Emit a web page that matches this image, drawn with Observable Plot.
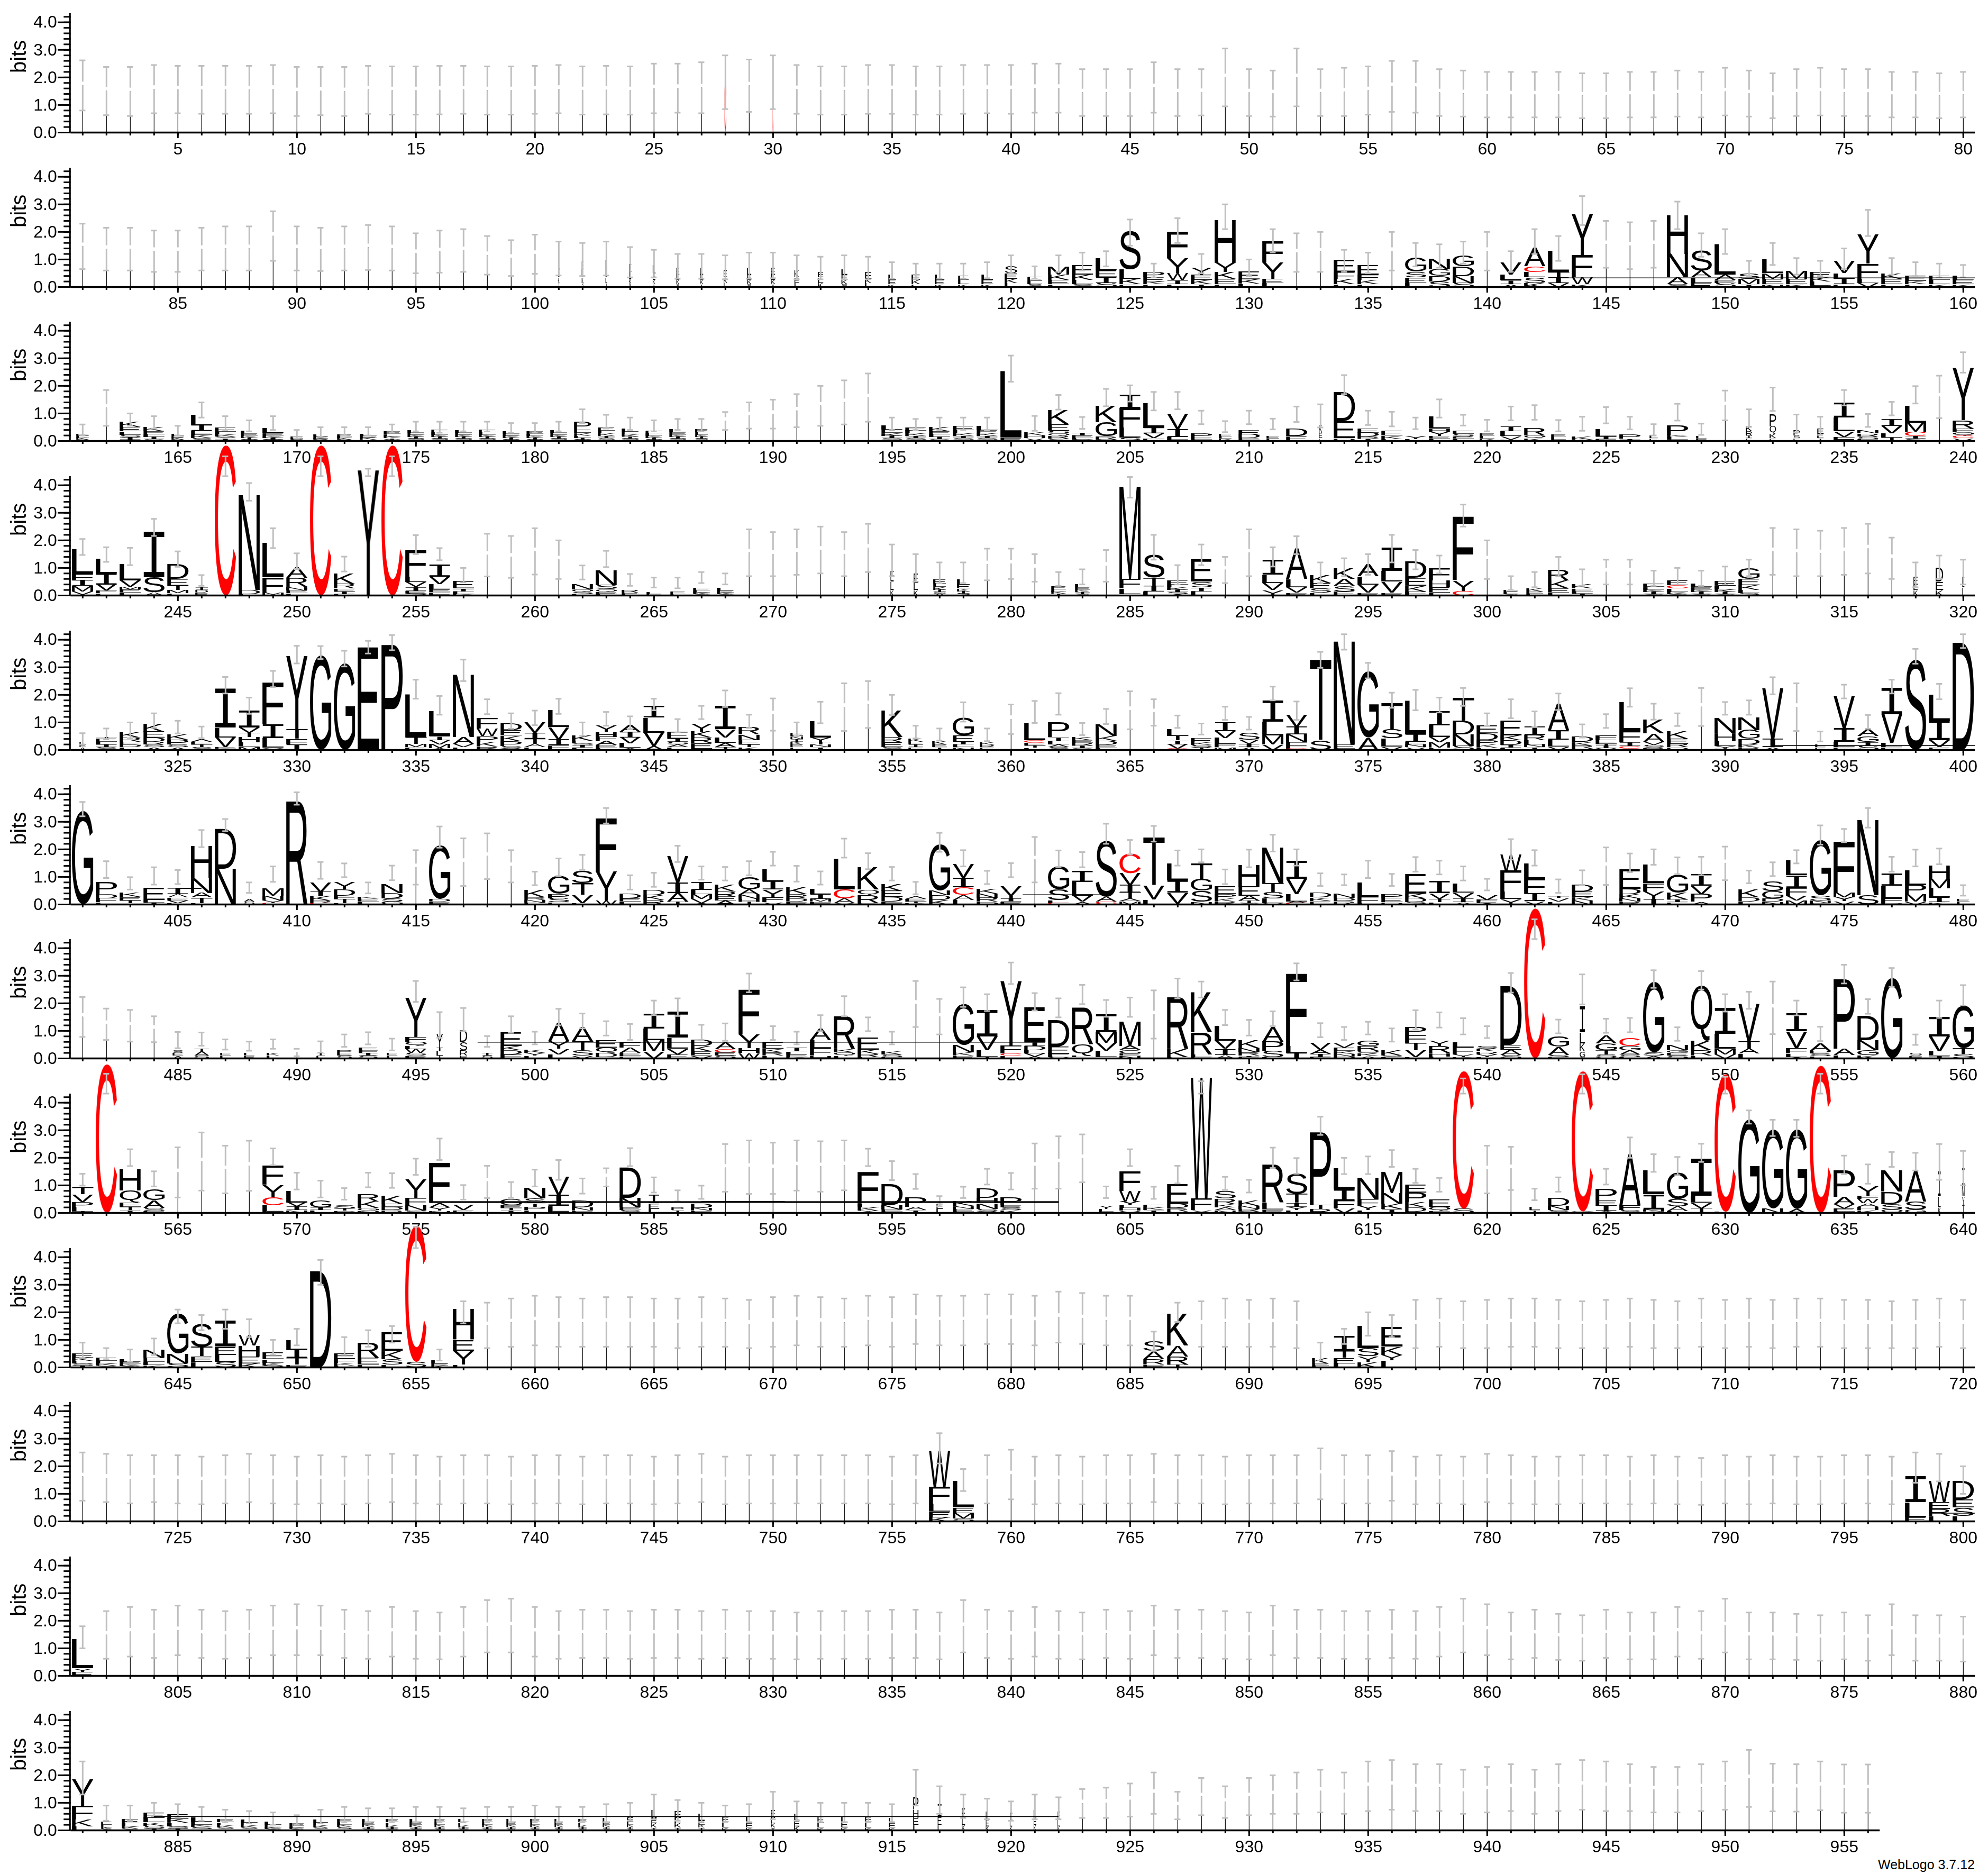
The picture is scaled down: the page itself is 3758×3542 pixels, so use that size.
<!DOCTYPE html>
<html><head><meta charset="utf-8">
<script src="https://cdn.jsdelivr.net/npm/d3@7"></script>
<script src="https://cdn.jsdelivr.net/npm/@observablehq/plot@0.6"></script>
<style>
html,body{margin:0;padding:0;background:#fff}
#chart{position:relative;width:3758px;height:3542px;overflow:hidden;background:#fff}
#chart svg{position:absolute;left:0;overflow:visible;background:transparent}
#credit{position:absolute;left:3550px;top:3509px;font:25px "Liberation Sans";line-height:30px;color:#000;white-space:nowrap}
</style></head><body>
<div id="chart"><div id="credit">WebLogo 3.7.12</div></div>
<script>
// Stack strings read top to bottom: letter + height in bits; "w.3" = relative column width.
const hi0=[2.62,2.38,2.38,2.45,2.42,2.42,2.42,2.42,2.45,2.38,2.38,2.38,2.42,2.4,2.4,2.42,2.42,2.4,2.4,2.42,2.45,2.4,2.42,2.4,2.5,2.5,2.55,2.8,2.65,2.8,2.45,2.4,2.4,2.45,2.45,2.4,2.4,2.45,2.45,2.45,2.5,2.5,2.3,2.3,2.3,2.55,2.3,2.3,3.05,2.3,2.25,3.05,2.3,2.35,2.4,2.6,2.6,2.3,2.25,2.2,2.2,2.2,2.2,2.15,2.15,2.2,2.2,2.25,2.2,2.35,2.25,2.15,2.3,2.35,2.3,2.3,2.2,2.2,2.15,2.2];
const lo0=[.8,.63,.6,.7,.7,.68,.68,.68,.7,.6,.63,.6,.68,.65,.65,.66,.68,.65,.65,.68,.7,.65,.66,.65,.7,.72,.7,.85,.75,.85,.68,.65,.65,.68,.68,.65,.65,.68,.7,.68,.72,.72,.6,.6,.6,.72,.6,.62,.95,.6,.58,.95,.6,.6,.65,.75,.72,.6,.58,.55,.55,.55,.55,.52,.52,.55,.55,.58,.55,.62,.58,.52,.6,.62,.6,.6,.55,.55,.52,.55];
const stack0={28:"w.08C1.8",30:"w.05C1.8"};

const hi1=[2.3,2.15,2.15,2.05,2.05,2.15,2.2,2.2,2.75,2.2,2.15,2.2,2.25,2.2,1.95,2.05,2.1,1.85,1.7,1.9,1.65,1.6,1.65,1.45,1.35,1.2,1.2,1.15,1.25,1.25,1.15,1.1,1.15,1.1,.9,.85,.85,.85,.9,1.15,.75,1.15,1.25,1.3,2.45,.85,2.5,1.2,3,1,2.1,1.95,2,1.35,1.25,2,1.6,1.55,1.65,2,1.3,2.1,1.85,3.3,2.4,2.35,2.4,3.1,1.95,2.1,.95,1.6,1.05,.95,1.4,2.8,1.05,.9,.85,.8];
const lo1=[.65,.6,.6,.55,.55,.6,.6,.6,.95,.6,.58,.6,.62,.6,.5,.52,.55,.45,.4,.48,.42,.4,.42,.35,.35,.3,.3,.28,.3,.32,.28,.28,.28,.28,.3,.28,.3,.3,.32,.5,.3,.55,.6,.75,1.5,.35,1.6,.5,2.1,.4,1.25,.55,.55,.55,.5,.6,.75,.7,.85,.6,.55,1.2,.95,2.25,.7,.65,.7,2.1,1.1,1.2,.4,.8,.45,.4,.65,1.85,.45,.4,.35,.35];
const stack1={101:"w.06L.4E.3K.2I.15",102:"w.08E.3L.3K.2S.15",103:"w.08K.35E.3L.2I.15",104:"w.1E.3L.25K.2S.1",105:"w.12L.3E.25K.15I.1",106:"w.14E.25L.2K.15S.1",107:"w.15L.25E.2K.15I.1",108:"w.16E.25K.2L.15",109:"w.2L.25E.2K.15S.1",110:"w.2E.25L.2K.15I.1",111:"w.22K.25E.2L.15",112:"w.25E.2L.2K.15",113:"w.28L.2E.2K.15S.1",114:"w.3E.25K.15L.15",115:"w.35L.2E.15K.1",116:"w.4E.2K.15L.1",117:"w.45L.2E.15K.1",118:"w.5E.15L.15K.1",119:"w.55L.2E.15K.1",120:"w.6S.25E.2K.15L.15",
121:"w.7E.15L.12S.1",122:"M.3K.2E.15L.1",123:"E.35K.2L.15S.1",124:"L.45E.25I.2S.15",125:"S1.4L.35K.2E.1",126:"P.2E.15K.1L.1",127:"F.95Y.55W.25I.15L.1",128:"Y.25E.2K.15I.1",129:"H1.55Y.35K.25E.2L.1",130:"E.28K.15L.12",131:"F.75Y.6E.15L.15",134:"E.45F.25K.2L.1",135:"E.35F.2K.15L.1",137:"G.5S.2E.2L.15",138:"N.4G.25D.2S.2",139:"G.4D.35N.25S.15",141:"V.45L.2I.15A.1",142:"A.65C.2L.2S.2K.15",143:"L.75T.2I.2V.15",144:"Y1.5F.8W.25K.1",148:"H1.4N.85A.25S.1",149:"S.75A.25L.2E.15",150:"L1.1A.2E.1S.15",151:"S.2M.2I.1",152:"L.5M.2E.2N.1",153:"M.3E.2K.1",154:"E.2K.15L.15S.05",155:"V.45L.2I.2F.1",156:"Y1.05F.55L.15V.15",157:"K.2E.2L.1",158:"E.2K.12L.1",159:"E.15L.15K.1",160:"L.15E.15K.1"};

const hi2=[.6,1.85,1,.9,.55,1.4,.9,.75,.9,.4,.5,.5,.5,.6,.7,.7,.7,.7,.65,.65,.7,1.15,.95,.85,.75,.8,.8,1.05,1.4,1.5,1.7,2,2.2,2.45,.85,.8,.85,.85,.85,3.1,.91,1.67,.87,1.89,2.02,1.78,1.78,1.1,.72,1.1,.81,1.25,1.33,2.39,1.1,1.06,.85,1.51,.95,.77,1.25,1.3,.76,.88,1.23,.88,.61,1.35,.63,1.83,1.15,1.94,.96,.88,1.85,.98,1.42,1.99,2.37,3.22];
const lo2=[.2,.55,.55,.45,.2,.85,.4,.35,.4,.1,.15,.2,.2,.3,.35,.3,.35,.35,.3,.3,.35,.65,.45,.4,.35,.4,.35,.4,.45,.45,.5,.55,.6,.7,.4,.4,.4,.4,.4,2.15,.37,1.14,.44,1.26,1.43,1.11,1.15,.61,.32,.61,.42,.69,.49,1.7,.58,.53,.43,.85,.56,.35,.75,.77,.35,.37,.64,.42,.2,.74,.22,.75,.51,1.09,.31,.22,1.29,.51,.93,1.36,.83,2.48];
const stack2={161:"w.6E.08L.07K.06S.05",163:"K.2E.15L.12S.1I.08A.05",164:"K.15E.12L.1I.08S.06",165:"w.6L.07E.07K.06S.05",166:"L.4I.2E.15K.12S.1",167:"E.14L.1K.08S.06I.05A.05",168:"w.8L.1E.09K.08I.06S.05",169:"L.18E.1K.08I.06S.05",170:"w.6E.06L.05S.04",171:"w.7L.07E.07K.05S.04",172:"w.7E.07L.06K.06S.05",173:"w.8L.08E.07K.06I.05",174:"w.8E.09L.08K.07I.05S.05",175:"w.8L.1E.08K.07I.06S.05A.04",176:"w.8E.09L.09K.07I.06S.05A.04",177:"w.8L.1E.08K.07I.06S.05A.04",178:"w.8E.09L.09K.07I.06S.05A.04",179:"w.8L.09E.08K.07I.06S.05",180:"w.8E.09L.08K.07I.06S.05",181:"w.8L.1E.08K.07I.06S.05A.04",182:"w.8P.3E.12K.1L.08I.06S.05",183:"w.8E.12L.1K.09I.07S.06A.05",184:"w.8L.12E.09K.08I.07S.05A.04",185:"w.8E.1L.09K.07I.06S.05",186:"w.8L.12E.1K.07I.06S.05A.04",187:"w.6E.12L.09K.07I.06S.05A.04",195:"L.15E.12K.1I.08S.06A.05",196:"E.12L.11K.09I.07S.06A.05",197:"K.15E.12L.1I.08S.06",198:"E.14L.12K.1I.07S.06A.05",199:"L.14E.12K.1I.07S.06A.05",200:"L2.4E.12",
201:"K.12H.1Y.1",202:"K.52E.22S.1Q.1R.1S.08",203:"I.08E.1L.05S.05",204:"K.6G.5R.13S.05",205:"I.5F.7L.37S.12",206:"L.9I.2V.17F.1",207:"V.57I.28L.1F.05",208:"P.15E.07L.05",209:"w.6E.1L.08K.08",210:"E.14D.14E.05L.05",211:"w.6E.1L.08",212:"D.27E.18",213:"w.15K.3E.2L.1",214:"D1.05E.62P.1",215:"E.14D.14R.08I.08",216:"E.17K.13L.07",217:"Y.13L.07",218:"L.45H.13Y.14E.1L.08",219:"E.12S.1E.08L.08",220:"w.7E.1L.1K.08",221:"I.17L.17V.13F.05",222:"R.27Q.1K.1",223:"w.7E.1L.1K.05",224:"K.13A.05",225:"L.27I.1E.07",226:"P.14I.05L.03",227:"w.4L.1E.1",228:"P.35K.07L.1I.05",229:"w.5L.1E.08",231:"w.3K.2R.15I.1E.1",232:"w.3P.45Q.27K.15E.1",233:"w.3P.2S.1E.1",234:"w.3E.2L.15I.1",235:"I.55L.5V.2F.15",236:"N.13R.1S.1E.07",237:"I.25V.27L.15T.1E.03",238:"L.62M.33C.15I.1S.08",240:"Y1.9R.3F.13Q.13C.1V.1"};

const hi3=[2.05,1.75,1.73,2.78,1.6,.74,5.05,4.08,2.44,1.53,5.05,1.41,4.6,5.05,2.19,1.72,1,2.24,2.16,2.44,2,1.09,1.62,.78,.65,.65,.85,.8,2.4,2.3,2.4,2.5,2.3,2.6,1.85,1.5,1.2,1.2,1.7,1.7,1.5,.85,.95,1.65,4.3,2.2,1.1,1.85,1.4,2.4,1.75,2.15,1.2,1.35,1.5,2.2,1.65,1.45,3.3,2,.7,.85,1.4,.95,1.3,1.3,.9,1,.9,1.05,1.3,2.45,2.4,2.35,2.45,2.6,2.1,1.2,1.45,1.3];
const lo3=[1.47,1.22,1.1,2.16,1.04,.35,4.33,3.44,1.72,.96,4.33,.87,4.33,4.33,1.5,1.28,.48,.69,.64,.76,.6,.58,1.03,.35,.29,.26,.45,.4,.7,.7,.75,.8,.7,.85,.7,.5,.45,.45,.55,.6,.5,.35,.4,.5,3.55,1.3,.4,1.1,.45,.7,1.05,1.5,.45,.7,.75,1.2,.95,.8,2.5,.6,.2,.3,.7,.35,.4,.4,.35,.4,.35,.4,.7,.75,.7,.7,.75,.8,.6,.3,.6,.4];
const stack3={241:"L.9F.22I.2M.2V.12C.03",242:"L.55I.4V.22F.1L.08",243:"L.6V.22M.1E.12L.1",244:"I1.65S.55A.12",245:"D.55E.25T.15M.12L.08",246:"w.6I.1D.1E.1",247:"C5.45",248:"N3.45D.15L.05",249:"L1.25F.55M.08C.03",250:"A.4R.33N.13E.1L.08",251:"C5.45",252:"K.38R.17E.1I.1L.05",253:"Y4.55",254:"C5.45",255:"F.95L.2V.17I.15E.1S.07",256:"I.45V.27L.2E.1F.12",257:"E.27I.1L.1K.05",262:"N.2Q.1S.08L.05",263:"N.55S.14Q.1E.08L.05",264:"w.8R.1E.05L.05",265:"w.7L.07E.05",266:"w.7E.1L.04",267:"w.8E.1L.08K.06S.05",268:"w.8L.1E.08K.06S.05",275:"w.15E.4L.3K.2",276:"w.2E.35L.25K.2",277:"w.6E.15L.12K.1I.08S.07A.06",278:"w.6L.2E.14K.1I.08S.07",282:"w.7E.12L.1K.07I.06",283:"w.7L.13E.1K.08I.07S.05",285:"M3.35F.35L.2I.05",286:"S.85T.3I.2L.15",287:"E.15L.1K.1I.08S.07A.05",288:"E.8S.2I.15L.15",291:"I.55L.3V.25Y.2",292:"A1.1L.3V.2E.1",293:"K.3E.2S.15L.1",294:"K.4A.25S.2E.15",295:"A.45L.3V.3E.1",296:"I.85L.4V.4E.1",297:"D.6E.3K.2F.15",298:"F.45H.25E.2L.1",299:"F2.3Y.4C.15",301:"w.7E.08L.07S.05",302:"w.8K.12E.08L.06",303:"R.4K.3E.15L.1",304:"K.15E.1L.08I.07",307:"E.13L.1K.08I.08S.05",308:"E.18C.12L.12K.08S.05",309:"L.13E.1K.08I.08S.05",310:"E.16L.12K.1I.08S.05",311:"G.4E.22K.18L.12S.08",318:"w.2E.3L.2K.2",319:"w.35D.5E.3K.2",320:"w.1E.4L.3"};

const hi4=[.61,.78,1,1.33,1.06,.85,2.65,1.9,2.87,3.78,3.77,3.6,3.96,4.17,2.55,1.96,3.28,1.84,1.33,1.43,1.86,1,1.38,1.22,1.86,1.12,1.6,2.16,1.28,1.87,1,1.75,2.42,2.5,2,.88,.78,1.73,.78,1.65,1.78,2.06,.98,1.49,2.13,1.84,1.25,.96,1.57,1.2,2.3,1.76,3.56,4.2,3.16,2.08,2.18,1.9,2.25,1.33,1.84,1.4,2.05,.93,1.3,2.24,1.68,1.33,2.25,1.74,1.8,2.64,2.42,.67,2.37,1.27,2.55,3.67,2.4,4.2];
const lo4=[.2,.4,.42,.8,.6,.43,2.05,1.31,2.28,3.14,3.3,3.03,3.5,3.62,1.86,1.28,2.5,1.3,.77,.9,1.31,.51,.88,.76,1.44,.64,1.12,1.56,.8,.7,.5,.97,.69,.8,1.27,.42,.34,1.03,.32,.58,.98,1.28,.54,.94,.75,.88,.8,.56,1.09,.74,1.8,1.09,2.98,3.64,2.6,1.53,1.44,1.36,1.6,.87,1.15,.83,1.45,.45,.8,1.57,1.1,.87,.87,1.28,1.28,2.02,.69,.31,1.87,.77,2.05,3.13,1.84,3.7];
const stack4={321:"w.3L.1E.1A.1",322:"T.04E.12L.1I.1S.1",323:"K.2R.15E.1D.1L.1",324:"K.3E.22D.15R.1S.1A.1",325:"K.2P.18S.1A.1",326:"A.1E.1T.1S.1",327:"I1.42L.35V.36E.05A.05",328:"I.6V.2T.15H.2L.15M.12",329:"F1.5I.5L.35Y.08",330:"Y2.65T.35F.2I.2",331:"G3.42",332:"G3.15",333:"E3.73",334:"P3.82",335:"L1.55T.25M.12F.1",336:"L.9I.15V.15M.14A.06",337:"N2.25A.25V.12L.1",338:"F.38W.28P.2K.18R.12",339:"D.25E.2K.2P.17S.1L.05",340:"V.4I.2T.2A.12L.1",341:"L.62V.45I.2F.18",342:"K.2E.1S.08I.08L.08",343:"Y.25H.16F.16A.14E.12L.06",344:"A.24I.2V.22L.16A.08",345:"I.42L.55V.48A.15",346:"E.25I.12S.1A.1L.1",347:"Y.3K.22R.2E.2L.05",348:"I.85V.3L.2A.15T.1",349:"R.27N.2E.16T.1K.1",351:"w.6E.13N.1I.1K.1E.1L.1",352:"L.6Y.15T.1N.1I.1",355:"K.95R.2E.18S.1",356:"w.7K.12E.1I.1E.1",357:"w.7K.12E.1I.1",358:"G.65E.22I.1L.1N.1",359:"w.7K.1R.08E.1",
361:"L.62C.1E.1T.08L.08",362:"P.55I.15L.12A.1S.1",363:"K.12E.1R.1I.1S.06",364:"N.42K.17D.15E.12L.06",367:"L.24T.16I.14V.16C.05",368:"E.14K.1S.1T.08",369:"I.33V.25L.22F.12M.1",370:"S.25V.15I.12A.1",371:"I.78L.5M.32V.2",372:"V.45I.27N.27F.25C.04",373:"T2.95S.33",374:"N3.75E.15L.04",375:"G2.4A.45",376:"T.95S.33L.3V.12",377:"L1.2I.28E.1N.1V.1",378:"I.52L.42V.2M.2L.08",379:"T.85D.5N.42S.14",380:"E.3D.25P.15K.12L.08",381:"E.55K.18D.17I.1L.08",382:"I.3R.2L.15N.1I.1",383:"A.95I.35L.25V.12",384:"D.2K.12R.12F.05",385:"F.18E.14T.08I.08V.06",386:"L1.05F.38I.15C.1A.05",387:"K.5A.3V.12S.1R.08",388:"K.27E.2R.12D.1",390:"N.55H.3L.17Y.1N.05",391:"N.47G.32D.2K.12R.08",392:"V1.85I.3A.1",394:"w.5L.1E.1",395:"V1.15I.5L.2F.1",396:"A.24G.2I.15S.15",397:"I.97V1.05L.15F.1",398:"S3.3",399:"L.95I.7V.25E.1",400:"D3.9"};

const hi5=[3.72,1.57,.99,1.35,1.25,2.7,3.1,.8,1.38,4.07,1.54,1.49,.8,1.41,1.97,2.83,2.4,2.58,1.97,1.19,1.67,1.8,3.5,1.06,1.15,2.13,1.38,1.36,1.57,1.91,1.4,1.2,2.39,1.86,1.36,.82,2.6,1.97,1.22,1.5,2.45,1.96,1.9,2.93,2.34,2.85,1.96,2,1.27,1.99,2.53,2,1.13,1.09,1.59,1.11,1.72,1.59,1.38,.93,2.37,1.97,.91,1.24,2.07,1.85,2,1.71,1.73,2.1,1.23,1.53,1.97,2.87,2.74,3.5,1.73,1.99,2.03,.7];
const lo5=[3.2,.96,.54,.72,.74,2.08,2.66,.42,.82,3.62,.93,.99,.4,.88,.72,2.06,.67,.92,.8,.7,1.03,1.25,2.94,.54,.64,1.54,.9,.87,1.06,1.41,.83,.72,1.7,1.28,.87,.37,1.91,1.38,.74,.99,.8,1.36,1.35,2.2,1.81,2.28,1.41,1.53,.74,1.35,1.92,1.41,.67,.7,.96,.67,1.19,1.09,.87,.51,1.63,1.41,.42,.71,.71,1.17,1.44,1.1,1.06,.88,.77,1.03,1.49,2.17,2.26,2.79,1.19,1.38,1.46,.32];
const stack5={401:"G3.4",402:"P.45D.15F.15L.08",403:"K.14E.13T.1I.05",404:"E.45L.1I.06",405:"I.24A.12E.1V.1L.05",406:"H1.15N.55A.17T.2L.05",407:"D1.45N1.3",408:"w.5A.1S.1",409:"M.28N.17Y.1C.04",410:"R3.8",411:"V.35I.17K.15R.1C.04",412:"Y.28D.22F.12T.15L.05",413:"K.08E.1L.1",414:"N.32D.2S.12G.1",416:"G1.95D.1E.1",420:"K.27R.1N.1E.06",421:"G.65P.15S.15E.08",422:"S.45T.42V.3L.05",423:"F1.95Y1.05W.14",424:"D.17E.12L.1",425:"D.2K.18R.16",426:"V.95I.38A.32T.1",427:"I.28L.15M.17V.15A.05",428:"K.24R.2E.14A.14",429:"G.45A.2N.15H.1T.1",430:"L.45I.3Y.28F.18V.08",431:"K.25R.14D.13E.1",432:"L.2I.17M.1F.1",433:"L1.1C.32A.18Y.04",434:"K.8Q.2R.3E.04",435:"K.25E.22D.17F.1",436:"A.1E.1T.05K.05",437:"G1.68N.17D.18K.16",438:"V.5I.35C.27A.18L.17",439:"K.16N.15R.14D.1",440:"V.35T.1I.12E.1",
442:"G.83S.4L.1C.05",443:"I.4L.5V.22A.1",444:"S2.05A.17C.1",445:"C.7V.43I.27T.22A.1M.12",446:"T1.75V.5L.18",447:"L.62I.45V.4E.03",448:"T.58G.42S.4N.1",449:"E.3P.15K.13R.1",450:"H.78E.33A.17T.1S.05",451:"N1.3T.32S.22L.17V.05",452:"I.65V.57L.27A.06C.04",453:"D.17K.12E.13",454:"N.15D.12R.12",455:"L.52F.22L.05",456:"P.15E.15D.08",457:"E.7K.17D.15S.08",458:"I.45V.2T.13L.08",459:"L.32V.2I.15A.08",460:"V.16F.07E.05A.05",461:"W.58F.75L.27Y.2",462:"L.57F.53I.27V.13",463:"T.05V.13L.1",464:"D.25E.2K.13N.15",466:"E.72D.2K.15N.12R.1",467:"L.65F.3Y.27I.2",468:"G.65K.25I.1E.08",469:"I.43V.3P.28A.1",471:"K.3D.15L.1",472:"S.36G.27D.12N.1",473:"L.53I.45F.3V.17M.14",474:"G2S.17N.1E.05",475:"F1.85M.18Y.14V.12",476:"N2.72S.33",477:"I.45L.45F.18P.05",478:"L.55P.33M.28V.1",479:"H.5M.33L.33I.17K.08",480:"w.6E.1L.1"};

const hi6=[2.23,1.81,1.76,1.53,.96,.94,.69,.61,.69,.35,.62,.87,.95,.72,2.81,1.68,1.83,.81,1.53,.97,1.8,1.63,1.35,1.25,2.1,2.18,1.22,1.27,3.08,1.17,.97,1.57,2.26,1.49,.97,2.81,2.16,2.58,2.33,3.48,2.37,2.18,2.67,2.12,2.21,2.47,2.9,2.79,1.76,1.4,1.71,3.45,1.28,1.14,1.33,1.09,1.75,1.67,1.46,1.17,3.1,5.05,1.41,3.05,1.44,1.47,3.2,1.13,3.17,2.33,2.42,2.79,2.1,1.15,3.4,2.15,3.28,.87,2.1,2.66];
const lo6=[.78,.67,.61,.59,.37,.46,.32,.28,.35,.08,.21,.42,.51,.29,2.05,.75,.99,.42,.93,.51,1.2,1.09,.83,.67,1.57,1.54,.67,.64,2.4,.67,.51,.99,1.53,.99,.51,1.14,.87,1.87,1.72,2.7,1.74,1.49,1.97,1.51,1.51,.72,2.18,2.21,1.21,.83,1.17,2.83,.77,.67,.87,.61,1.06,1.12,.87,.74,2.39,4.33,.91,1.96,.93,.95,2.56,.64,2.5,1.7,1.8,.88,1.56,.63,2.72,1.62,2.6,.49,1.47,1.92];
const stack6={485:"w.5S.1E.1A.1",486:"w.7T.1A.15S.1",487:"w.5E.1L.1",488:"w.5L.1E.1",489:"w.6K.1L.1",491:"w.4I.1L.1",492:"w.7P.1E.1S.1",493:"w.9E.1F.1I.1S.1",494:"w.5E.1L.1",495:"Y1.42F.17Q.15L.12W.14S.1E.1",496:"w.3Y.5I.15L.15T.1",497:"w.35D.42S.3R.2E.1",498:"w.5I.1S.1",499:"E.5K.15D.15F.15",500:"K.12Y.1L.1",501:"A.65Y.28V.2L.15",502:"A.52T.33S.2V.1",503:"E.27Q.2D.15I.05",504:"F.2A.2E.12E.08",505:"I.55L.42M.42V.25",506:"I.93L.4V.2E.15",507:"D.22K.2E.15V.1",508:"A.25C.12E.12S.1",509:"F1.62Y.5H.17W.2",510:"E.22K.13R.13L.1",511:"I.13L.1E.1K.05",512:"A.42L.3F.27H.1",513:"R1.2K.13Q.12L.1",514:"E.45K.15R.12L.05",515:"K.13S.1E.05",518:"G1.5N.27K.12E.1",519:"I.97V.5L.25T.05",520:"Y2.33F.3C.08L.1",
521:"E1.25I.15D.15L.12V.12A.06",522:"D.95E.27F.07L.05V.05",523:"R1.35Q.4L.05I.05",524:"I.65M.38V.3L.22I.05",525:"M.88A.15G.13E.08N.1",527:"R1.9K.3L.05",528:"K1.45R.8L.1E.05",529:"L.55V.3I.22A.13",530:"K.3N.14R.13I.05E.05",531:"A.55P.33S.22L.05",532:"F2.62L.25I.2",533:"V.25A.14I.12E.05",534:"V.15E.12K.1N.1D.07",535:"G.2R.17Q.1K.1A.08",536:"K.2S.05L.05",537:"P.28F.28T.27V.25L.05",538:"Y.2R.25H.13L.07",539:"L.17F.27Y.1K.05",540:"S.1K.1R.1Y.1L.05",541:"D2.13E.17A.2S.12",542:"C5.45",543:"G.38A.3S.08E.05",544:"w.25I.95L.4K.3G.2S.05",545:"A.3G.25T.15S.1V.05",546:"C.3G.15A.15S.1L.05",547:"G2.55S.12A.1",548:"N.2G.1E.1S.1",549:"Q2K.33R.2L.1",550:"I.93L.55M.2V.15",551:"V1.35T.28A.17L.18",553:"I.65V.6F.2L.13A.05",554:"A.27P.1S.1L.08",555:"P2.5A.22L.13",556:"D.88N.37G.18K.12",557:"G2.9",558:"w.6S.1F.1",559:"I.7V.55L.15I.1",560:"G1.55T.22S.15"};

const hi7=[1.42,5.05,2.31,1.51,2.38,2.92,2.44,2.62,2.34,1.46,1.17,.9,1.46,1.44,1.97,2.7,1.01,1.71,1.12,1.57,1.92,1.25,1.62,2.35,1.29,.82,.99,2.5,2.63,2.55,2.63,2.6,2.63,2.33,1.88,1.41,.61,.95,1.6,1.45,2.52,2.78,2.85,.96,2.31,.95,1.71,4.78,1.31,1.2,2.37,1.99,3.49,2,2.05,2.28,1.6,1.27,4.88,2.44,2.4,.88,1.29,5.03,1.6,2.74,2.13,2.03,2.51,4.94,3.72,3.38,3.38,5.05,2.08,1.76,2.21,2.18,2.5,2.25];
const lo7=[.99,4.33,1.7,.96,.56,.81,.71,.8,1.73,.85,.56,.48,.93,.91,1.38,1.92,.48,.54,.54,.96,1.2,.7,.96,1.7,.74,.42,.51,.77,.69,.69,.81,.77,.82,1.7,1.19,.87,.24,.54,1.03,.85,.88,.88,1.11,.54,1.7,.51,1.07,4.33,.83,.74,1.63,1.42,2.83,1.41,1.41,1.67,1.09,.77,4.33,.71,.83,.46,.77,4.33,1.03,2,1.49,1.37,1.85,4.33,3.24,2.79,2.76,4.33,1.41,1.06,1.67,1.54,1.2,1];
const stack7={561:"T.25V.28P.2L.15T.05",562:"C5.4",563:"H.75Q.45E.15T.12I.1",564:"G.4A.27S.13E.06",569:"F.68Y.45C.3L.22E.05",570:"L.42V.14I.14N.1",571:"G.25I.1L.1",572:"S.12T.08D.08",573:"R.27K.24G.1N.08",574:"K.3E.12D.12R.1",575:"Y.65F.27N.2S.08",576:"F1.45A.14Y.13N.08",577:"V.2E.1",579:"G.22E.1T.08I.1",580:"N.38S.18T.13P.12L.1",581:"V.65I.4L.2E.05",582:"D.25N.13E.08",584:"D1.1N.35E.1S.1",585:"w.5I.3E.2L.15",586:"w.6P.1I.1",587:"D.15N.1E.08",594:"F1.15L.12K.13Y.05C.03",595:"D.75N.15E.08L.05",596:"P.35A.13I.1",597:"w.3E.2L.15",598:"K.15N.1E.1L.05",599:"D.33H.2N.2S.1R.05",600:"P.3E.08S.1K.1",
604:"w.7Y.13L.1E.05",605:"F.72W.38Y.14L.1H.1V.08",606:"E.1K.1I.1",607:"E.72D.15R.13L.05",608:"W4.4F.42Y.1",609:"S.27R.2K.12A.1N.1",610:"K.2N.12R.1S.04",611:"R1.4L.25E.12",612:"S.75T.32I.15Y.12L.1",613:"P2.62T.15R.15",614:"L.75I.4F.27V.18",615:"N.75F.25Y.15L.1",616:"M.75N.38K.2I.14",617:"E.3P.33K.2D.15E.05",618:"E.27Q.15F.08",619:"C5S.15",622:"w.5L.12I.1",623:"D.3N.15S.1",624:"C5.1G.05",625:"P.42E.2I.2A.06",626:"A1.85F.18S.1",627:"L.85I.55N.08A.05",628:"G.95S.27A.17L.06",629:"I1.33L.25V.2T.17",630:"C5L.04",631:"G3.4",632:"G2.85N.17",633:"G2.88A.14",634:"C5.35",635:"P.95A.27V.15E.12L.05",636:"Y.33F.13W.15A.12H.13K.1",637:"N.75D.45S.2Q.12",638:"A1.1S.3G.12",639:"w.12I.9L.4K.2",640:"w.12I.6M.4Y.3T.3"};

const hi8=[.9,.7,.65,1.05,2.1,1.9,2.1,1.75,1,1.4,3.9,1.1,1.35,1.5,5.1,.65,2.4,2.35,2.5,2.6,2.55,2.5,2.55,2.55,2.5,2.5,2.55,2.5,2.45,2.55,2.6,2.55,2.5,2.6,2.55,2.65,2.6,2.6,2.65,2.65,2.6,2.75,2.7,2.6,2.6,1.3,2.35,2.4,2.5,2.45,2.5,2.4,.9,1.4,2,1.9,2.45,2.5,2.4,2.45,2.5,2.5,2.45,2.4,2.45,2.5,2.45,2.4,2.5,2.45,2.5,2.45,2.5,2.5,2.45,2.45,2.4,2.45,2.5,2.45];
const lo8=[.35,.3,.2,.45,1.6,1.35,1.4,1.1,.45,.8,3,.45,.75,.9,4.33,.25,1.6,.7,.75,.8,.75,.75,.75,.75,.75,.7,.75,.75,.7,.75,.8,.75,.75,.8,.75,.85,.8,.8,.85,.85,.8,.9,.85,.8,.8,.6,1.65,.75,.75,.75,.75,.7,.25,.85,1.15,1.1,.7,.75,.7,.7,.75,.75,.7,.7,.7,.75,.7,.7,.75,.7,.75,.7,.75,.75,.7,.7,.7,.7,.75,.7];
const stack8={641:"E.15K.12L.1S.08I.06",642:"E.12L.1K.08S.06",643:"L.1E.09K.07S.05",644:"N.3E.15L.12K.08",645:"G1.45N.35S.15",646:"S.85T.35E.2L.2",647:"I.95E.3L.25S.2",648:"W.4H.4E.25K.15",649:"E.25L.12K.1S.07",650:"L.35I.3T.25E.1",651:"D3.5",652:"E.2F.15K.1L.07",653:"R.55E.25L.1",654:"E.65K.3S.2L.1",655:"C4.95S.2",656:"w.8L.12E.08K.06",657:"H1.1E.4Y.5L.1",686:"S.35A.3R.2E.1",687:"K1.15A.4R.3T.1",693:"w.8K.2E.08L.06",694:"I.55T.25E.2L.15",695:"L.8S.3Y.2K.2",696:"E.7K.3Y.2L.25"};

const hi9=[2.5,2.45,2.4,2.4,2.4,2.35,2.4,2.45,2.4,2.35,2.4,2.35,2.4,2.45,2.4,2.35,2.4,2.4,2.35,2.4,2.4,2.35,2.4,2.4,2.35,2.4,2.45,2.35,2.4,2.4,2.4,2.4,2.4,2.4,2.35,2.4,3.2,1.9,2.4,2.6,2.35,2.4,2.35,2.4,2.4,2.45,2.4,2.4,2.35,2.4,2.4,2.4,2.65,2.4,2.4,2.55,2.35,2.4,2.35,2.45,2.4,2.35,2.35,2.4,2.4,2.35,2.4,2.35,2.3,2.4,2.35,2.4,2.35,2.35,2.4,2.4,2.35,2.5,2.45,2];
const lo9=[.75,.7,.65,.7,.65,.62,.65,.7,.65,.62,.65,.62,.65,.7,.65,.62,.65,.65,.62,.65,.65,.62,.65,.65,.62,.65,.7,.62,.65,.65,.65,.65,.65,.65,.62,.65,2.1,1.1,.65,.8,.62,.65,.62,.65,.65,.7,.65,.65,.62,.65,.65,.65,.8,.65,.65,.75,.62,.65,.62,.7,.65,.62,.62,.65,.65,.62,.65,.62,.6,.65,.62,.65,.62,.62,.65,.65,.62,1.4,1.45,1];
const stack9={757:"W1.3F.6L.3E.2K.15",758:"L.95E.2M.2S.1",798:"I.95L.55E.15",799:"W.75E.25R.25L.2",800:"D.65E.3S.3L.2"};

const hi10=[1.8,2.35,2.5,2.4,2.55,2.4,2.35,2.4,2.55,2.6,2.55,2.4,2.35,2.5,2.35,2.3,2.5,2.75,2.8,2.5,2.35,2.4,2.4,2.35,2.4,2.4,2.35,2.4,2.35,2.35,2.3,2.35,2.35,2.35,2.4,2.4,2.3,2.75,2.4,2.35,2.5,2.35,2.3,2.4,2.35,2.55,2.4,2.4,2.35,2.3,2.55,2.4,2.4,2.35,2.35,2.4,2.35,2.5,2.8,2.6,2.3,2.4,2.25,2.2,2.4,2.3,2.3,2.5,2.35,2.8,2.3,2.3,2.25,2.2,2.3,2.2,2.6,2.2,2.2,2.15];
const lo10=[1,.62,.7,.65,.75,.65,.62,.65,.75,.75,.75,.65,.62,.7,.62,.6,.7,.85,.85,.7,.62,.65,.65,.62,.65,.65,.62,.65,.62,.62,.6,.62,.62,.62,.65,.65,.6,.85,.65,.62,.7,.62,.6,.65,.62,.75,.65,.65,.62,.6,.75,.65,.65,.62,.62,.65,.62,.7,.85,.75,.6,.65,.58,.55,.65,.6,.6,.7,.62,.85,.6,.6,.58,.55,.6,.55,.75,.55,.55,.52];
const stack10={801:"L1.05Y.12E.15"};

const hi11=[2.5,.9,.9,1,.95,.85,.75,.7,.65,.55,.75,.85,.8,.8,.85,.85,.8,.85,.85,.9,.85,.85,.95,1,1.3,1.1,1,.9,.95,1.4,1.05,1,1,1,.95,2.2,1.6,1.3,1.15,1.05,1.3,1.2,1.5,1.55,1.7,2.1,1.4,1.9,1.6,1.9,2,2.1,2.2,2.1,2.5,2.55,2.4,2.4,2.2,2.3,2.4,2.2,2.4,2.55,2.5,2.4,2.3,2.3,2.4,2.5,2.92,2.42,2.4,2.5,2.39,2.39];
const lo11=[1.3,.35,.35,.5,.45,.35,.3,.25,.2,.2,.25,.3,.3,.3,.3,.3,.3,.3,.3,.3,.3,.3,.3,.35,.4,.35,.3,.3,.3,.4,.35,.3,.3,.3,.3,.9,.6,.45,.4,.35,.4,.4,.45,.45,.5,.6,.4,.55,.45,.55,.6,.6,.65,.6,.7,.75,.7,.7,.6,.65,.7,.6,.7,.75,.7,.7,.65,.65,.7,.75,.85,.69,.68,.73,.64,.64];
const stack11={881:"Y.95F.5K.25L.15",882:"w.5E.12L.1K.06S.05",883:"w.8E.15L.12K.08S.06",884:"E.2L.17K.12S.1I.07",885:"E.18K.15L.12S.08I.07",886:"L.14E.12K.08S.07I.05",887:"w.8E.13L.1K.08S.06I.05",888:"w.8L.13E.1K.07S.06I.05",889:"w.8L.12E.1K.06S.05",890:"w.7E.1L.08K.05S.04",891:"w.7L.13E.1K.07S.06I.05",892:"w.7E.13L.1K.08S.07I.05",893:"w.6L.13E.1K.08I.07S.05",894:"w.6E.13L.1K.08I.06S.05",895:"w.6L.13E.1K.08I.07S.05",896:"w.5E.13L.1K.08I.07S.05",897:"w.5L.13E.1K.08I.06S.05",898:"w.5E.13L.1K.08I.07S.05",899:"w.45L.13E.1K.08I.07S.05",900:"w.45E.13L.1K.08I.07S.05",901:"w.4L.13E.1K.08I.07S.05",902:"w.4E.13L.1K.08I.06S.05",903:"w.35L.15E.1K.08I.07S.05",904:"w.3E.16L.1K.08I.07S.05",905:"w.25L.3E.2K.15I.1",906:"w.3E.25L.2K.15I.1",907:"w.3L.25E.15K.1I.1",908:"w.3E.2L.2K.1",909:"w.3L.25E.15K.1",910:"w.2E.3L.2K.15I.1",911:"w.25L.25E.2K.15",912:"w.3E.25L.15K.1",913:"w.3L.2E.2K.1",914:"w.3E.2L.2K.1",915:"w.3L.2E.15K.1",916:"w.25P.45H.3E.25L.2",917:"w.18I.45E.3L.2",918:"w.15E.35L.25K.2",919:"w.14L.3E.25K.15",920:"w.12E.3L.2K.15",921:"w.12L.3E.25K.2",922:"w.1E.3L.25K.15"};

const rows=[[hi0,lo0,stack0],[hi1,lo1,stack1],[hi2,lo2,stack2],[hi3,lo3,stack3],[hi4,lo4,stack4],[hi5,lo5,stack5],[hi6,lo6,stack6],[hi7,lo7,stack7],[hi8,lo8,stack8],[hi9,lo9,stack9],[hi10,lo10,stack10],[hi11,lo11,stack11]];
// thin black streaks [from position, to position, bits]
const streaks=[[143,160.5,.33],[392,400.5,.16],[405,406,.58],[440.5,444,.35],[497.6,520.6,.59],[575.6,602,.42],[575.6,602,.38],[587,590.5,.4],[884,922,.5],[798.6,800.5,.3]];
const yMajor=[0,1,2,3,4];
const yMinor=d3.range(0,4.3,.2);
const fontOf=l=>l==="I"?"Liberation Mono":"Liberation Sans";
const cv=document.createElement("canvas").getContext("2d");
const metrics=new Map();
function measure(l){
  if(!metrics.has(l)){cv.font=`100px "${fontOf(l)}"`;const m=cv.measureText(l);
    metrics.set(l,{left:-m.actualBoundingBoxLeft,w:m.actualBoundingBoxRight+m.actualBoundingBoxLeft,asc:m.actualBoundingBoxAscent,desc:m.actualBoundingBoxDescent});}
  return metrics.get(l);
}
function parseStack(p,s){
  const mw=s.match(/w([\d.]+)/);const w=mw?+mw[1]:1;
  const parts=[...s.replace(/w[\d.]+/,"").matchAll(/([A-Z])([\d.]+)/g)].reverse();
  let y=0;const out=[];
  for(const m of parts){const h=+m[2];out.push({x:p,letter:m[1],y0:y,y1:y+h,w});y+=h;}
  return out;
}
const glyphRender=glyphs=>(index,scales,values,dims,ctx,next)=>{
  const g=next(index,scales,values,dims,ctx);
  g.style.opacity=.999; // grayscale antialiasing for the squeezed glyphs
  const nodes=g.querySelectorAll("text");
  const step=Math.abs(scales.x(1)-scales.x(0));
  index.forEach((i,j)=>{
    const d=glyphs[i],n=nodes[j],m=measure(d.letter);
    const W=step*.9*d.w,H=Math.abs(scales.y(d.y0)-scales.y(d.y1));
    n.removeAttribute("y");n.removeAttribute("dy");n.removeAttribute("x");
    n.setAttribute("font-family",fontOf(d.letter));
    n.setAttribute("font-size",100);
    n.setAttribute("text-anchor","start");
    n.setAttribute("transform",`translate(${scales.x(d.x)},${scales.y(d.y0)}) scale(${W/m.w},${H/(m.asc+m.desc)}) translate(${-m.left-m.w/2},${-m.desc})`);
  });
  return g;
};
const chart=document.getElementById("chart");
const GRAY="#bfbfbf",PITCH=291.7,STEP=45,LEFT=133.3;
rows.forEach(([hi,lo,stacks],k)=>{
  const first=k*80+1,n=hi.length,a=first-.5,b=first-.5+n;
  const pos=hi.map((_,i)=>first+i);
  const glyphs=[],hair=[],segs=[],caps=[];
  pos.forEach((p,i)=>{
    const s=stacks[p];
    if(s){glyphs.push(...parseStack(p,s));segs.push({p,a:lo[i],b:hi[i]});}
    else{const T=(hi[i]+lo[i])/2;hair.push({p,T});segs.push({p,a:lo[i],b:T},{p,a:T+.13,b:hi[i]});}
    caps.push({p,y:hi[i]},{p,y:lo[i]});
  });
  const black=glyphs.filter(d=>d.letter!=="C"),red=glyphs.filter(d=>d.letter==="C");
  const rowStreaks=streaks.filter(s=>s[0]>=a-1&&s[0]<=b);
  const textOpts={x:"x",y:"y0",text:"letter",textAnchor:"start"};
  const svg=Plot.plot({
    width:3758,height:292,marginLeft:LEFT,marginRight:3758-LEFT-n*STEP,marginTop:25,marginBottom:42,
    style:{fontFamily:"Liberation Sans",background:"transparent",overflow:"visible"},
    x:{domain:[a,b]},y:{domain:[0,4.32]},
    marks:[
      Plot.text(black,{...textOpts,fill:"#000",render:glyphRender(black)}),
      Plot.text(red,{...textOpts,fill:"#ff0000",render:glyphRender(red)}),
      Plot.ruleX(hair,{x:"p",y1:0,y2:"T",stroke:"#000",strokeWidth:1.2}),
      Plot.ruleX(segs,{x:"p",y1:"a",y2:"b",stroke:GRAY,strokeWidth:3}),
      Plot.ruleY(caps,{y:"y",x1:d=>d.p-.125,x2:d=>d.p+.125,stroke:GRAY,strokeWidth:3}),
      Plot.ruleY(rowStreaks,{y:d=>d[2],x1:d=>d[0],x2:d=>Math.min(d[1],b),stroke:"#000",strokeWidth:1.5}),
      Plot.ruleX([a],{y1:0,y2:4.32,stroke:"#000",strokeWidth:3,dx:-1.5}),
      Plot.ruleY([0],{x1:a,x2:b,stroke:"#000",strokeWidth:3.5}),
      Plot.ruleY(yMinor,{x1:a-13/STEP,x2:a,stroke:"#000",strokeWidth:3}),
      Plot.ruleX(pos,{y1:-6/52,y2:0,stroke:"#000",strokeWidth:3}),
      Plot.axisY({ticks:yMajor,tickSize:24,tickPadding:2,tickFormat:d3.format(".1f"),fontSize:32,color:"#000",strokeWidth:3,label:null}),
      Plot.axisX({ticks:pos.filter(p=>p%5===0),tickSize:11,tickPadding:8,tickFormat:d=>String(d),fontSize:32,color:"#000",strokeWidth:3,label:null}),
      Plot.text(["bits"],{frameAnchor:"left",dx:-98,rotate:-90,fontSize:40,fill:"#000"})
    ]
  });
  svg.style.top=(k*PITCH)+"px";
  chart.appendChild(svg);
});
</script>
</body></html>
